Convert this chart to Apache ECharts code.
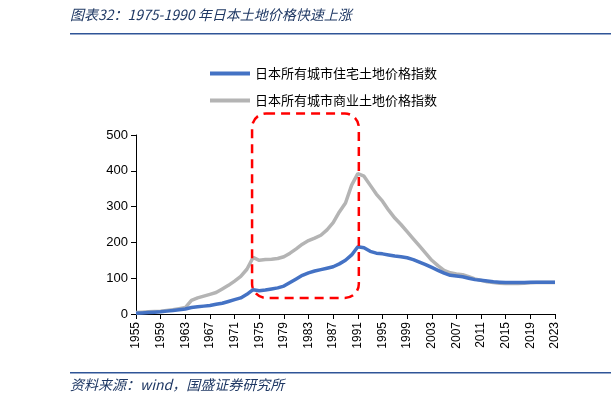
<!DOCTYPE html><html><head><meta charset="utf-8"><script src="https://cdn.jsdelivr.net/npm/echarts@6/dist/echarts.min.js"></script>
<style>body{margin:0}#c{width:611px;height:410px}</style></head><body><div id="c"></div><script>
const years=[];for(let y=1955;y<=2023;y++)years.push(String(y));
const residential=[2,3,4,5,6,8,10,12,14,18,20,22,24,27,30,35,40,45,55,68,65,67,70,73,78,88,98,108,115,120,124,128,132,140,150,165,188,185,175,170,168,165,162,160,157,152,145,138,130,122,114,108,106,104,100,96,94,92,90,89,88,88,88,88,89,89,89,89,89];
const commercial=[4,5,6,7,8,10,12,15,18,38,45,50,55,60,70,80,92,105,125,158,150,152,153,155,160,170,182,195,205,212,220,235,255,285,310,360,392,385,360,335,315,290,268,250,230,210,190,170,150,135,122,115,112,110,104,98,94,90,88,86,85,85,85,86,87,88,88,88,88];
const names=['日本所有城市住宅土地价格指数','日本所有城市商业土地价格指数'];
const ch=echarts.init(document.getElementById('c'));
const f='"Noto Sans CJK SC",sans-serif';
ch.setOption({animation:false,
grid:{left:136,right:56,top:135,bottom:96},
legend:{orient:'vertical',left:205,top:62,itemGap:14,itemWidth:40,itemHeight:4,icon:'rect',textStyle:{fontSize:13,fontFamily:f,color:'#000'},data:names},
xAxis:{type:'category',data:years,boundaryGap:false,axisLine:{lineStyle:{color:'#000'}},axisTick:{show:true,interval:3,alignWithLabel:true,lineStyle:{color:'#000'}},axisLabel:{interval:3,rotate:90,fontSize:12,color:'#000',fontFamily:'Liberation Sans'}},
yAxis:{type:'value',min:0,max:500,interval:100,splitLine:{show:false},axisLine:{show:true,lineStyle:{color:'#000'}},axisTick:{show:true,lineStyle:{color:'#000'}},axisLabel:{fontSize:13,color:'#000',fontFamily:'Liberation Sans'}},
series:[{name:names[1],type:'line',data:commercial,symbol:'none',lineStyle:{width:3.5,color:'#b4b4b4'},itemStyle:{color:'#b4b4b4'}},
{name:names[0],type:'line',data:residential,symbol:'none',lineStyle:{width:3.5,color:'#4472c4'},itemStyle:{color:'#4472c4'}}],
graphic:[{id:'t',type:'text',left:70,top:8,style:{text:'图表32：1975-1990 年日本土地价格快速上涨',font:'italic 14px '+f,fill:'#1f3864'}},
{id:'l1',type:'rect',shape:{x:70,y:33,width:541,height:1.5},style:{fill:'#2f5597'}},
{id:'l2',type:'rect',shape:{x:70,y:372,width:541,height:1.5},style:{fill:'#2f5597'}},
{id:'s',type:'text',left:70,top:378,style:{text:'资料来源：wind，国盛证券研究所',font:'italic 14px '+f,fill:'#1f3864'}}]});
const p1=ch.convertToPixel({xAxisIndex:0,yAxisIndex:0},['1974',560]);
const p2=ch.convertToPixel({xAxisIndex:0,yAxisIndex:0},['1991',45]);
ch.setOption({graphic:[{id:'box',type:'rect',z:100,shape:{x:p1[0]-1,y:p1[1],width:p2[0]-p1[0]+2,height:p2[1]-p1[1],r:14},style:{fill:'none',stroke:'#ff0000',lineWidth:2.5,lineDash:[9,6]}}]});
</script></body></html>
